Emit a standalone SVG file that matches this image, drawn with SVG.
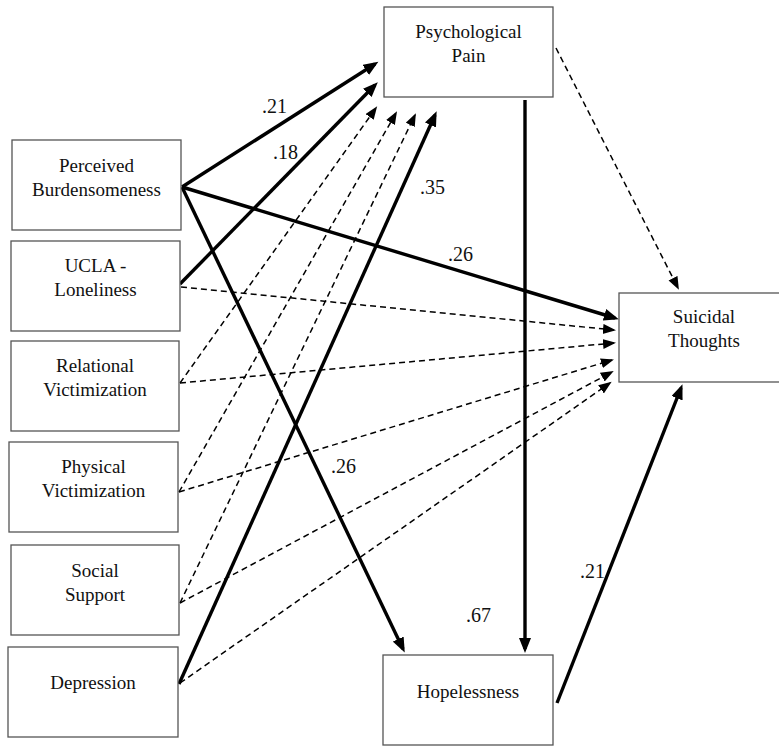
<svg xmlns="http://www.w3.org/2000/svg" width="779" height="746" viewBox="0 0 779 746">
  <style>
    .box { fill: #ffffff; stroke: #555555; stroke-width: 1.3; }
    .lbl { font-size: 19px; fill: #111111; text-anchor: middle; }
    .coef { font-size: 20px; fill: #111111; }
    .sig { fill: none; stroke: #000000; stroke-width: 3.4; marker-end: url(#headSolid); }
    .ns { fill: none; stroke: #000000; stroke-width: 1.5; stroke-dasharray: 6 4; marker-end: url(#headDash); }
  </style>
  <defs>
    <marker id="headSolid" markerUnits="userSpaceOnUse" markerWidth="16" markerHeight="12" refX="11" refY="6" orient="auto">
      <path d="M0,0 L15,6 L0,12 z" fill="#000000"/>
    </marker>
    <marker id="headDash" markerUnits="userSpaceOnUse" markerWidth="14" markerHeight="11" refX="11" refY="5" orient="auto">
      <path d="M0,0 L13,5 L0,10 z" fill="#000000"/>
    </marker>
  </defs>

  <rect width="779" height="746" fill="#ffffff"/>

  <!-- paths between constructs -->
  <g id="connectors">
    <!-- significant paths -->
    <line class="sig" x1="182" y1="187" x2="375" y2="64"/>
    <line class="sig" x1="180" y1="284" x2="375" y2="85"/>
    <line class="sig" x1="182" y1="187" x2="403" y2="649"/>
    <line class="sig" x1="182" y1="187" x2="615" y2="318"/>
    <line class="sig" x1="179" y1="684" x2="435" y2="115"/>
    <line class="sig" x1="525" y1="100" x2="525" y2="649"/>
    <line class="sig" x1="557" y1="703" x2="681" y2="388"/>
    <!-- non-significant paths -->
    <line class="ns" x1="556" y1="48" x2="678" y2="288"/>
    <line class="ns" x1="181" y1="287" x2="614" y2="330"/>
    <line class="ns" x1="180" y1="383" x2="614" y2="343"/>
    <line class="ns" x1="180" y1="383" x2="376" y2="108"/>
    <line class="ns" x1="179" y1="492" x2="612" y2="360"/>
    <line class="ns" x1="179" y1="492" x2="396" y2="113"/>
    <line class="ns" x1="180" y1="603" x2="612" y2="372"/>
    <line class="ns" x1="180" y1="603" x2="415" y2="115"/>
    <line class="ns" x1="180" y1="683" x2="610" y2="383"/>
  </g>

  <g font-family="Liberation Serif, Times New Roman, serif">
    <!-- path coefficients -->
    <g id="coefficients">
      <text class="coef" x="262" y="113">.21</text>
      <text class="coef" x="273" y="159">.18</text>
      <text class="coef" x="420" y="194">.35</text>
      <text class="coef" x="448" y="261">.26</text>
      <text class="coef" x="331" y="473">.26</text>
      <text class="coef" x="466" y="622">.67</text>
      <text class="coef" x="580" y="578">.21</text>
    </g>

    <g id="perceived-burdensomeness">
      <rect class="box" x="12" y="140" width="169" height="90"/>
      <text class="lbl" x="96.5" y="172">Perceived</text>
      <text class="lbl" x="96.5" y="196">Burdensomeness</text>
    </g>
    <g id="ucla-loneliness">
      <rect class="box" x="11" y="241" width="169" height="90"/>
      <text class="lbl" x="95.5" y="272">UCLA -</text>
      <text class="lbl" x="95.5" y="296">Loneliness</text>
    </g>
    <g id="relational-victimization">
      <rect class="box" x="11" y="341" width="168" height="90"/>
      <text class="lbl" x="95" y="372">Relational</text>
      <text class="lbl" x="95" y="396">Victimization</text>
    </g>
    <g id="physical-victimization">
      <rect class="box" x="9" y="442" width="169" height="90"/>
      <text class="lbl" x="93.5" y="473">Physical</text>
      <text class="lbl" x="93.5" y="497">Victimization</text>
    </g>
    <g id="social-support">
      <rect class="box" x="11" y="545" width="168" height="90"/>
      <text class="lbl" x="95" y="577">Social</text>
      <text class="lbl" x="95" y="601">Support</text>
    </g>
    <g id="depression">
      <rect class="box" x="8" y="647" width="170" height="90"/>
      <text class="lbl" x="93" y="689">Depression</text>
    </g>
    <g id="psychological-pain">
      <rect class="box" x="384" y="7" width="169" height="90"/>
      <text class="lbl" x="468.5" y="38">Psychological</text>
      <text class="lbl" x="468.5" y="62">Pain</text>
    </g>
    <g id="hopelessness">
      <rect class="box" x="383" y="655" width="170" height="90"/>
      <text class="lbl" x="468" y="698">Hopelessness</text>
    </g>
    <g id="suicidal-thoughts">
      <rect class="box" x="619" y="293" width="170" height="89"/>
      <text class="lbl" x="704" y="323">Suicidal</text>
      <text class="lbl" x="704" y="347">Thoughts</text>
    </g>
  </g>
</svg>
